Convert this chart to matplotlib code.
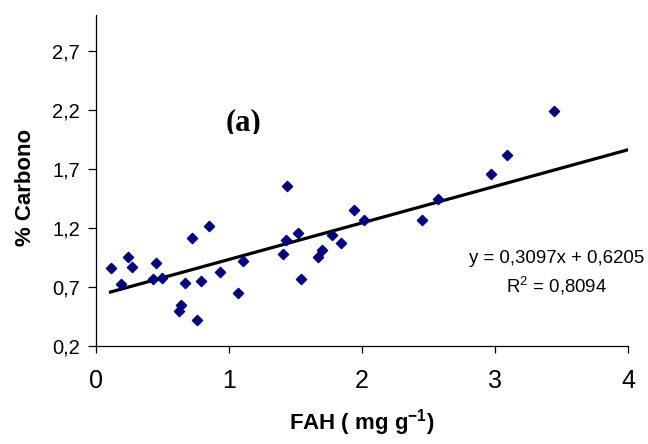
import numpy as np
import matplotlib
matplotlib.use("Agg")
import matplotlib.pyplot as plt
from matplotlib.transforms import Bbox, TransformedBbox

plt.rcParams['font.family'] = ['Liberation Sans', 'DejaVu Sans']
plt.rcParams['mathtext.fontset'] = 'custom'
plt.rcParams['mathtext.rm'] = 'Liberation Sans'
plt.rcParams['mathtext.bf'] = 'Liberation Sans:bold'

# dati
fah = [0.11, 0.19, 0.24, 0.27, 0.43, 0.45, 0.50, 0.667, 0.64, 0.624,
       0.72, 0.787, 0.757, 0.85, 0.932, 1.065, 1.103, 1.406, 1.43, 1.44,
       1.52, 1.54, 1.669, 1.697, 1.777, 1.842, 1.937, 2.017, 2.45, 2.571,
       2.967, 3.088, 3.446]
carbono = [0.86, 0.725, 0.947, 0.87, 0.768, 0.90, 0.777, 0.73, 0.544, 0.495,
           1.109, 0.751, 0.419, 1.217, 0.825, 0.646, 0.919, 0.975, 1.094, 1.549,
           1.157, 0.766, 0.947, 1.009, 1.14, 1.066, 1.353, 1.262, 1.262, 1.441,
           1.651, 1.816, 2.19]

slope = 0.3097
intercept = 0.6205
r2 = 0.8094
x_ticks = [0, 1, 2, 3, 4]
y_ticks = [0.2, 0.7, 1.2, 1.7, 2.2, 2.7]

fig = plt.figure(figsize=(6.48, 4.44), dpi=100)
ax = fig.add_axes([0.148, 0.2214, 0.821, 0.7446])

ax.scatter(fah, carbono, marker='D', s=5.2**2, color='#000080', zorder=3)

x_line = np.array([min(fah), 4.0])
ax.plot(x_line, slope * x_line + intercept, color='black', lw=2.3, zorder=2)

ax.set_xlim(0, 4)
ax.set_ylim(0.2, 3.0)
ax.set_xticks(x_ticks)
ax.set_yticks(y_ticks)
ax.set_yticklabels([f"{v:.1f}".replace('.', ',') for v in y_ticks])

ax.spines['top'].set_visible(False)
ax.spines['right'].set_visible(False)
for s in ['left', 'bottom']:
    ax.spines[s].set_linewidth(0.9)

ax.tick_params(axis='x', direction='out', length=5, width=0.9, labelsize=18, pad=12)
ax.tick_params(axis='y', direction='out', length=5.5, width=0.9, labelsize=14.5, pad=6)

ax.set_xlabel(r"FAH ( mg g$^{\mathbf{-1}}$)", fontsize=16, fontweight='bold', labelpad=10)
ax.set_ylabel("% Carbono", fontsize=16, fontweight='bold')
ax.yaxis.set_label_coords(-0.112, 0.48)

# etichetta (a), tagliata in basso come nell'originale
lab = ax.text(1.113, 2.029, "(a)", fontsize=22, fontweight='bold', family='Liberation Serif',
              ha='center', va='baseline')
lab.set_clip_box(TransformedBbox(Bbox([[0, 1 - 134 / 444], [1, 1]]), fig.transFigure))
lab.set_clip_on(True)

ax.text(3.466, 0.938, "y = 0,3097x + 0,6205", fontsize=13.4, ha='center', va='center')
ax.text(3.466, 0.708, "R$^2$ = 0,8094", fontsize=13.4, ha='center', va='center')

fig.savefig("out.png", dpi=100)
